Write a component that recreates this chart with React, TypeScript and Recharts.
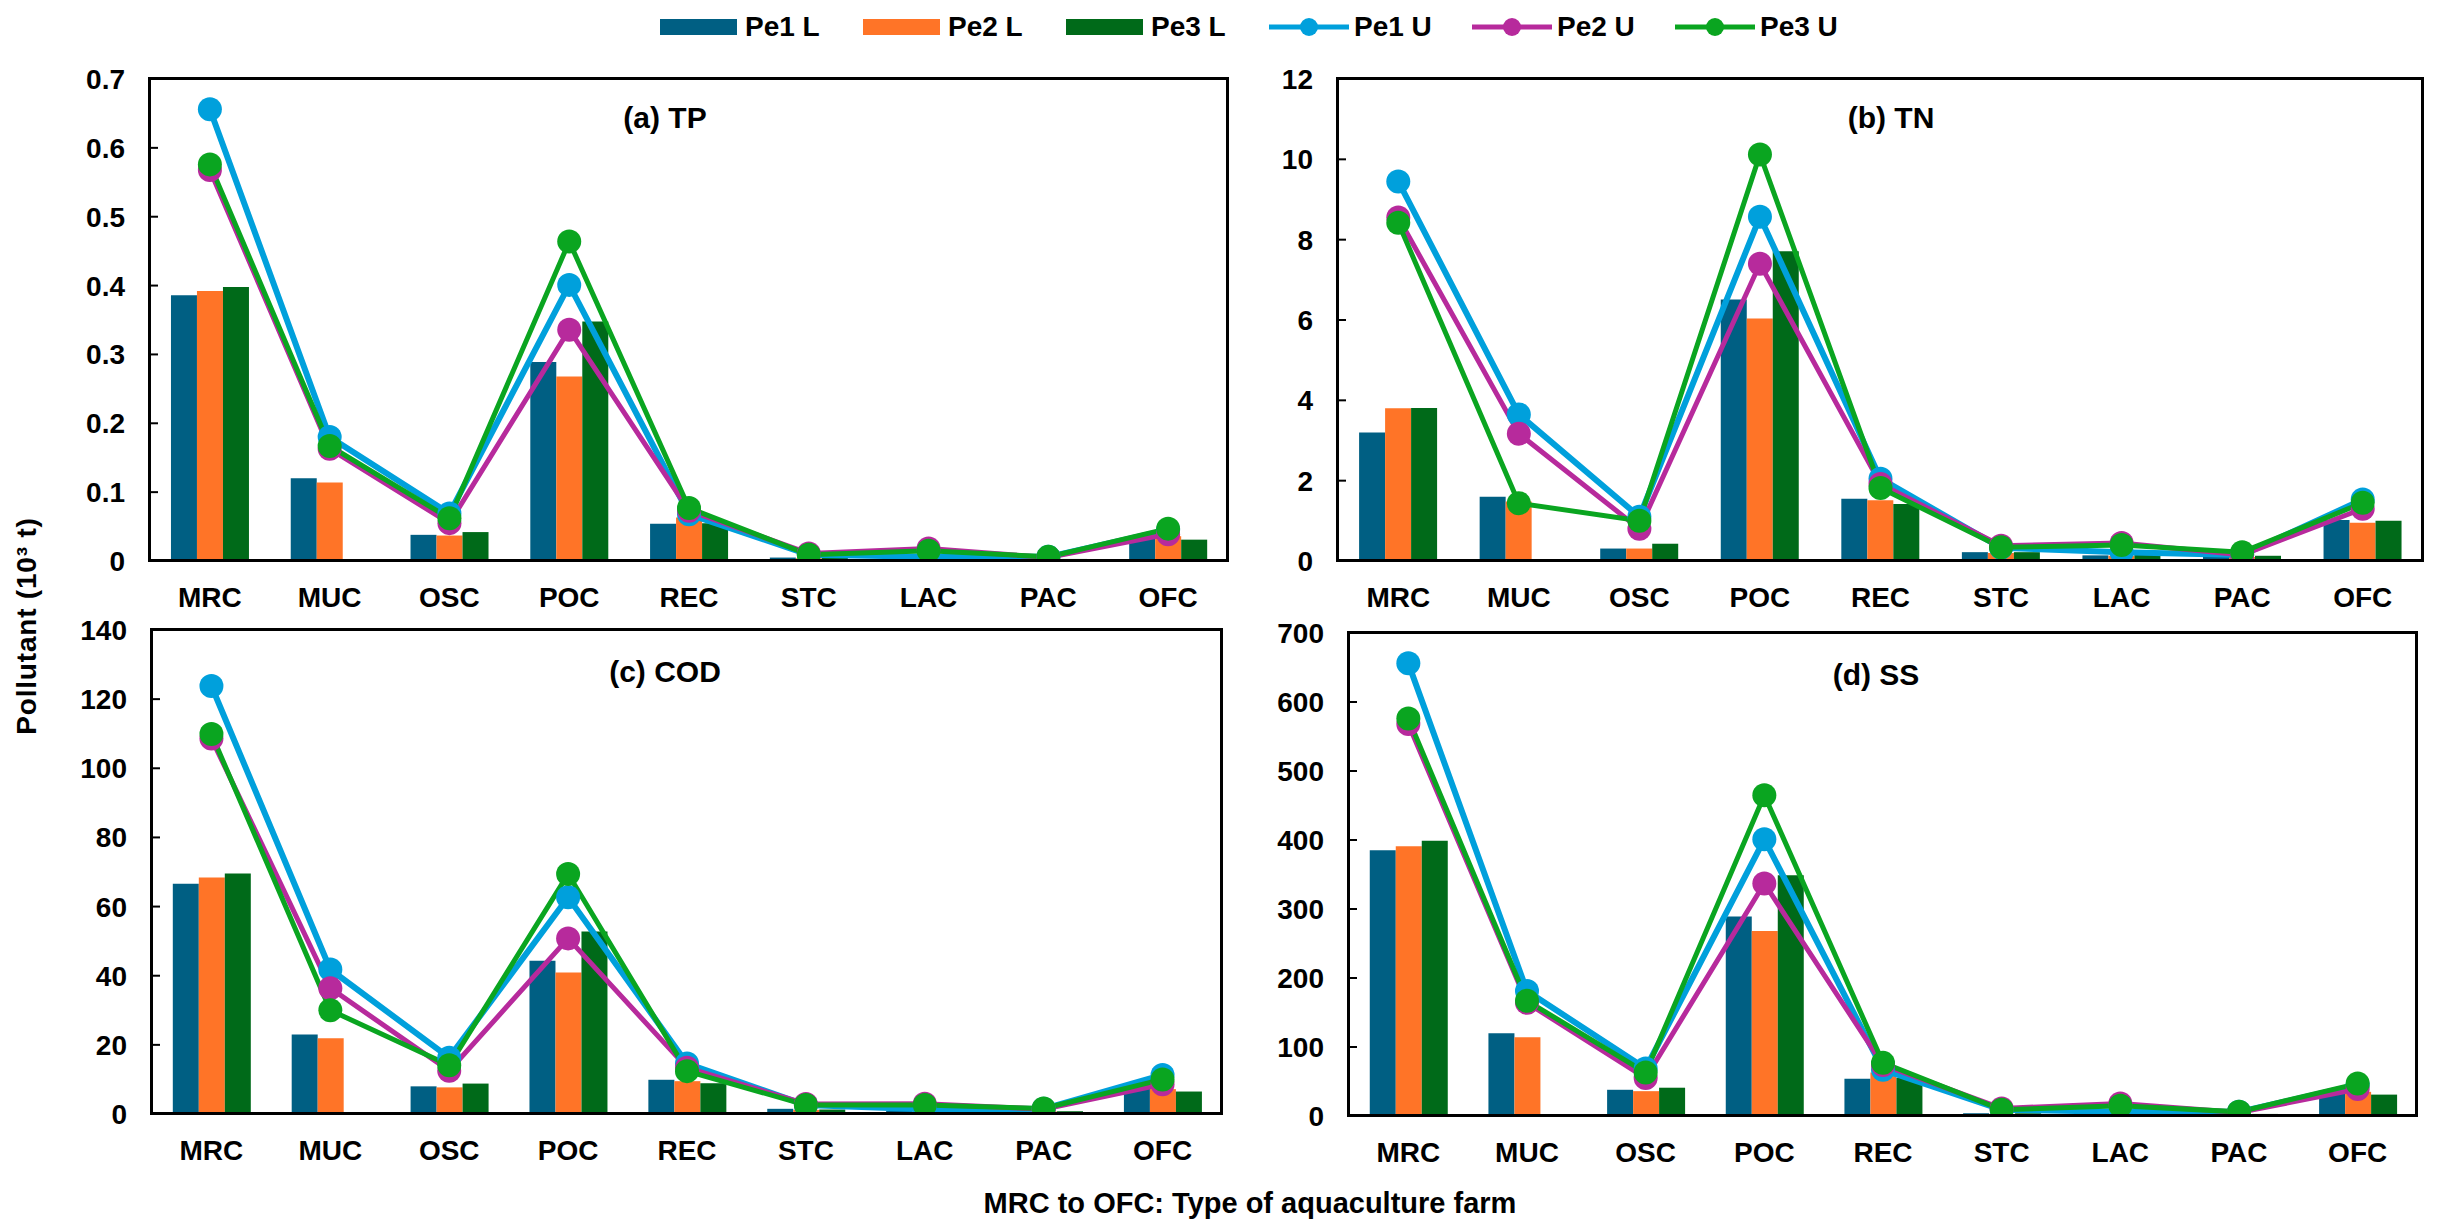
import React from "react";
import { ComposedChart, Bar, Line, XAxis, YAxis } from "recharts";

const categories = ["MRC", "MUC", "OSC", "POC", "REC", "STC", "LAC", "PAC", "OFC"];

// (a) TP, 10^3 t
const tpPe1L = [0.386, 0.12, 0.038, 0.289, 0.054, 0.005, 0.004, 0.003, 0.035];
const tpPe2L = [0.392, 0.114, 0.037, 0.268, 0.063, 0.004, 0.004, 0.003, 0.036];
const tpPe3L = [0.398, 0, 0.042, 0.348, 0.055, 0.005, 0.004, 0.003, 0.031];
const tpPe1U = [0.656, 0.18, 0.069, 0.401, 0.068, 0.009, 0.006, 0.006, 0.045];
const tpPe2U = [0.568, 0.163, 0.055, 0.336, 0.073, 0.011, 0.018, 0.005, 0.039];
const tpPe3U = [0.576, 0.167, 0.062, 0.464, 0.077, 0.009, 0.015, 0.006, 0.047];

// (b) TN
const tnPe1L = [3.2, 1.6, 0.31, 6.51, 1.55, 0.22, 0.14, 0.12, 1.02];
const tnPe2L = [3.8, 1.48, 0.31, 6.04, 1.51, 0.2, 0.13, 0.1, 0.95];
const tnPe3L = [3.81, 0, 0.43, 7.71, 1.42, 0.22, 0.15, 0.13, 1.0];
const tnPe1U = [9.45, 3.65, 1.1, 8.57, 2.05, 0.33, 0.22, 0.15, 1.53];
const tnPe2U = [8.55, 3.17, 0.8, 7.4, 1.92, 0.38, 0.45, 0.15, 1.3];
const tnPe3U = [8.42, 1.44, 1.0, 10.12, 1.82, 0.34, 0.4, 0.22, 1.45];

// (c) COD
const codPe1L = [66.6, 23.0, 8.0, 44.3, 9.9, 1.5, 0.9, 0.7, 7.4];
const codPe2L = [68.4, 21.9, 7.7, 40.9, 9.5, 1.2, 0.8, 0.7, 7.2];
const codPe3L = [69.6, 0, 8.8, 52.8, 8.9, 1.3, 0.9, 0.8, 6.5];
const codPe1U = [123.8, 41.8, 16.3, 62.7, 14.6, 2.6, 1.4, 1.5, 11.3];
const codPe2U = [108.6, 36.4, 12.5, 50.8, 13.4, 2.9, 3.0, 1.4, 8.6];
const codPe3U = [109.9, 30.0, 14.1, 69.4, 12.4, 2.6, 2.6, 1.6, 10.0];

// (d) SS
const ssPe1L = [385, 120, 38, 289, 54, 4, 3, 2, 33];
const ssPe2L = [391, 114, 36, 268, 63, 3, 3, 2, 35];
const ssPe3L = [399, 0, 41, 349, 55, 4, 3, 3, 31];
const ssPe1U = [656, 181, 69, 401, 67, 9, 6, 6, 45];
const ssPe2U = [568, 164, 55, 337, 74, 11, 18, 5, 39];
const ssPe3U = [576, 167, 63, 465, 77, 9, 15, 6, 47];

const tpTicks = [0, 0.1, 0.2, 0.3, 0.4, 0.5, 0.6, 0.7];
const tnTicks = [0, 2, 4, 6, 8, 10, 12];
const codTicks = [0, 20, 40, 60, 80, 100, 120, 140];
const ssTicks = [0, 100, 200, 300, 400, 500, 600, 700];

const seriesNames = ["Pe1 L", "Pe2 L", "Pe3 L", "Pe1 U", "Pe2 U", "Pe3 U"];
const seriesKeys = ["pe1L", "pe2L", "pe3L", "pe1U", "pe2U", "pe3U"];
const seriesColors = ["#005F83", "#FF7427", "#006A19", "#00A0DC", "#B72A9C", "#0AA520"];
const lineWidths = [0, 0, 0, 6, 5, 5];

const font = "'Liberation Sans', Arial, sans-serif";
const tickStyle = { fill: "#000", fontSize: 28, fontWeight: 700, fontFamily: font };

function buildRows(lists: number[][]) {
  return categories.map((name, i) => {
    const row: any = { name };
    seriesKeys.forEach((k, j) => (row[k] = lists[j][i]));
    return row;
  });
}

type Rect = { x: number; y: number; w: number; h: number };

function Panel({ plot, title, titleX, titleY, rows, ticks }: { plot: Rect; title: string; titleX: number; titleY: number; rows: any[]; ticks: number[] }) {
  const yw = 130;
  const mt = 30;
  const mr = 10;
  const xh = 70;
  return (
    <>
      <div style={{ position: "absolute", left: plot.x - yw, top: plot.y - mt }}>
        <ComposedChart
          width={yw + plot.w + mr}
          height={mt + plot.h + xh}
          data={rows}
          margin={{ top: mt, right: mr, bottom: 0, left: 0 }}
          barCategoryGap="17.5%"
          barGap={0}
        >
          <XAxis dataKey="name" height={xh} interval={0} tickLine={false} axisLine={false} tickSize={0} tickMargin={26} tick={tickStyle} />
          <YAxis
            width={yw}
            domain={[ticks[0], ticks[ticks.length - 1]]}
            ticks={ticks}
            interval={0}
            allowDataOverflow
            axisLine={false}
            tickSize={-8}
            tickMargin={33}
            tickLine={{ stroke: "#000", strokeWidth: 2 }}
            tick={tickStyle}
          />
          {[0, 1, 2].map((j) => (
            <Bar key={seriesKeys[j]} dataKey={seriesKeys[j]} fill={seriesColors[j]} isAnimationActive={false} />
          ))}
          {[3, 4, 5].map((j) => (
            <Line
              key={seriesKeys[j]}
              type="linear"
              dataKey={seriesKeys[j]}
              stroke={seriesColors[j]}
              strokeWidth={lineWidths[j]}
              dot={{ r: 12, fill: seriesColors[j], stroke: seriesColors[j], strokeWidth: 0 }}
              activeDot={false}
              isAnimationActive={false}
            />
          ))}
        </ComposedChart>
      </div>
      <div
        style={{
          position: "absolute",
          left: plot.x - 2,
          top: plot.y - 2,
          width: plot.w + 3,
          height: plot.h + 3,
          border: "3px solid #000",
          boxSizing: "border-box",
          pointerEvents: "none",
        }}
      />
      <div
        style={{
          position: "absolute",
          left: titleX - 150,
          width: 300,
          top: titleY - 17,
          textAlign: "center",
          fontFamily: font,
          fontWeight: 700,
          fontSize: 30,
          lineHeight: "34px",
        }}
      >
        {title}
      </div>
    </>
  );
}

function Legend() {
  return (
    <>
      {seriesNames.map((name, i) => {
        const left = 660 + i * 203;
        const isLine = i >= 3;
        return (
          <div key={name} style={{ position: "absolute", left, top: 10, height: 34, display: "flex", alignItems: "center" }}>
            <svg width={80} height={24}>
              {isLine ? (
                <>
                  <line x1={0} y1={12} x2={80} y2={12} stroke={seriesColors[i]} strokeWidth={5} />
                  <circle cx={40} cy={12} r={9} fill={seriesColors[i]} />
                </>
              ) : (
                <rect x={0} y={4} width={77} height={16} fill={seriesColors[i]} />
              )}
            </svg>
            <span style={{ marginLeft: 5, fontFamily: font, fontWeight: 700, fontSize: 28 }}>{name}</span>
          </div>
        );
      })}
    </>
  );
}

export default function App() {
  const tpRows = buildRows([tpPe1L, tpPe2L, tpPe3L, tpPe1U, tpPe2U, tpPe3U]);
  const tnRows = buildRows([tnPe1L, tnPe2L, tnPe3L, tnPe1U, tnPe2U, tnPe3U]);
  const codRows = buildRows([codPe1L, codPe2L, codPe3L, codPe1U, codPe2U, codPe3U]);
  const ssRows = buildRows([ssPe1L, ssPe2L, ssPe3L, ssPe1U, ssPe2U, ssPe3U]);

  return (
    <div style={{ position: "absolute", left: 0, top: 0, width: 2439, height: 1229, background: "#fff", overflow: "hidden" }}>
      <Legend />
      <Panel plot={{ x: 150, y: 79, w: 1078, h: 482 }} title="(a) TP" titleX={665} titleY={118} rows={tpRows} ticks={tpTicks} />
      <Panel plot={{ x: 1338, y: 79, w: 1085, h: 482 }} title="(b) TN" titleX={1891} titleY={118} rows={tnRows} ticks={tnTicks} />
      <Panel plot={{ x: 152, y: 630, w: 1070, h: 484 }} title="(c) COD" titleX={665} titleY={672} rows={codRows} ticks={codTicks} />
      <Panel plot={{ x: 1349, y: 633, w: 1068, h: 483 }} title="(d) SS" titleX={1876} titleY={675} rows={ssRows} ticks={ssTicks} />
      <div
        style={{
          position: "absolute",
          left: 27 - 200,
          top: 626 - 18,
          width: 400,
          height: 36,
          lineHeight: "36px",
          textAlign: "center",
          transform: "rotate(-90deg)",
          fontFamily: font,
          fontWeight: 700,
          fontSize: 28,
          letterSpacing: 0.8,
        }}
      >
        Pollutant (10³ t)
      </div>
      <div
        style={{
          position: "absolute",
          left: 1250 - 400,
          width: 800,
          top: 1203 - 18,
          lineHeight: "36px",
          textAlign: "center",
          fontFamily: font,
          fontWeight: 700,
          fontSize: 29,
        }}
      >
        MRC to OFC: Type of aquaculture farm
      </div>
    </div>
  );
}
